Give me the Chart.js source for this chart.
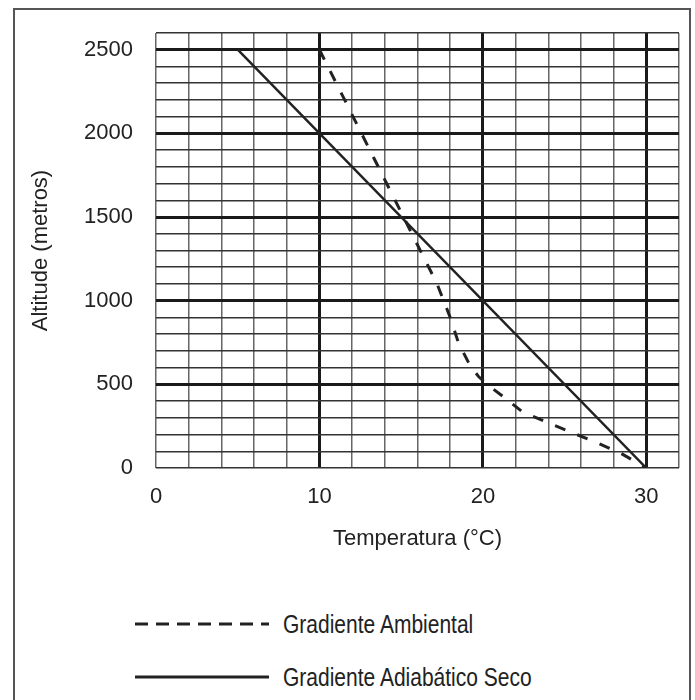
<!DOCTYPE html>
<html>
<head>
<meta charset="utf-8">
<script src="https://cdn.jsdelivr.net/npm/chart.js@4/dist/chart.umd.min.js"></script>
<style>
  body { margin: 0; background: #fff; width: 695px; height: 700px; overflow: hidden; position: relative; font-family: "Liberation Sans", Arial, sans-serif; }
  #frame { position: absolute; left: 13px; top: 8px; width: 674px; height: 720px; border: 2px solid #555; border-bottom: none; }
  #wrap { position: absolute; left: 0; top: 0; width: 695px; height: 560px; }
  .leg { position: absolute; left: 135px; height: 30px; display: flex; align-items: center; font-size: 25px; color: #222; white-space: nowrap; }
  .leg svg { margin-right: 14px; flex: none; }
  .leg span { display: inline-block; transform: scaleX(0.84); transform-origin: left center; }
</style>
</head>
<body>
<div id="frame"></div>
<div id="wrap"><canvas id="grafico"></canvas></div>
<div class="leg" style="top:609px"><svg width="134" height="4"><line x1="0" y1="2" x2="134" y2="2" stroke="#222" stroke-width="3" stroke-dasharray="13 8"/></svg><span>Gradiente Ambiental</span></div>
<div class="leg" style="top:662px"><svg width="134" height="4"><line x1="0" y1="2" x2="134" y2="2" stroke="#222" stroke-width="3"/></svg><span>Gradiente Adiabático Seco</span></div>
<script>
// Datos
const temperaturaAmbiental = [10, 17.2, 18, 18.5, 19.2, 19.75, 20.3, 21.5, 22.4, 24, 25.5, 27, 28.4, 30];
const altitudAmbiental = [2500, 1100, 900, 750, 615, 545, 497, 407, 337, 270, 210, 150, 90, 0];
const temperaturaAdiabatica = [5, 30];
const altitudAdiabatica = [2500, 0];
const etiquetasX = [0, 10, 20, 30];
const etiquetasY = [0, 500, 1000, 1500, 2000, 2500];

const fuente = { family: '"Liberation Sans", Arial, sans-serif', size: 22 };

document.addEventListener('DOMContentLoaded', function() {
    const ctx = document.getElementById('grafico').getContext('2d');
    new Chart(ctx, {
        type: 'line',
        data: {
            datasets: [{
                label: 'Gradiente Ambiental',
                data: temperaturaAmbiental.map((t, i) => ({ x: t, y: altitudAmbiental[i] })),
                borderColor: '#222',
                borderWidth: 3,
                borderDash: [11, 13],
                pointRadius: 0,
                tension: 0
            }, {
                label: 'Gradiente Adiabático Seco',
                data: temperaturaAdiabatica.map((t, i) => ({ x: t, y: altitudAdiabatica[i] })),
                borderColor: '#222',
                borderWidth: 2.5,
                pointRadius: 0,
                tension: 0
            }]
        },
        options: {
            responsive: true,
            maintainAspectRatio: false,
            animation: false,
            layout: { padding: { left: 20, right: 16, top: 33, bottom: 8 } },
            plugins: { legend: { display: false }, tooltip: { enabled: false } },
            scales: {
                x: {
                    type: 'linear',
                    min: 0,
                    max: 32,
                    border: { display: false },
                    ticks: {
                        stepSize: 2,
                        autoSkip: false,
                        maxRotation: 0,
                        padding: 16,
                        color: '#222',
                        font: fuente,
                        callback: v => etiquetasX.includes(v) ? v : ''
                    },
                    grid: {
                        drawTicks: false,
                        color: c => (c.tick.value % 10 === 0 && c.tick.value > 0 && c.tick.value <= 30) ? '#1a1a1a' : '#666',
                        lineWidth: c => (c.tick.value % 10 === 0 && c.tick.value > 0 && c.tick.value <= 30) ? 3 : 1.5
                    },
                    title: { display: true, text: 'Temperatura (°C)', color: '#222', font: fuente, padding: { top: 0, bottom: 0 } },
                    afterFit: s => { s.height = 84; s.paddingLeft = 0; s.paddingRight = 0; }
                },
                y: {
                    min: 0,
                    max: 2600,
                    border: { display: false },
                    ticks: {
                        stepSize: 100,
                        autoSkip: false,
                        padding: 23,
                        color: '#222',
                        font: fuente,
                        callback: v => etiquetasY.includes(v) ? v : ''
                    },
                    grid: {
                        drawTicks: false,
                        color: c => (c.tick.value % 500 === 0 && c.tick.value > 0 && c.tick.value <= 2500) ? '#1a1a1a' : '#333',
                        lineWidth: c => (c.tick.value % 500 === 0 && c.tick.value > 0 && c.tick.value <= 2500) ? 3 : 1.5
                    },
                    title: { display: true, text: 'Altitude (metros)', color: '#222', font: fuente, padding: { top: 8, bottom: 0 } },
                    afterFit: s => { s.width = 136; s.paddingTop = 0; s.paddingBottom = 0; }
                }
            }
        }
    });
});
</script>
</body>
</html>
